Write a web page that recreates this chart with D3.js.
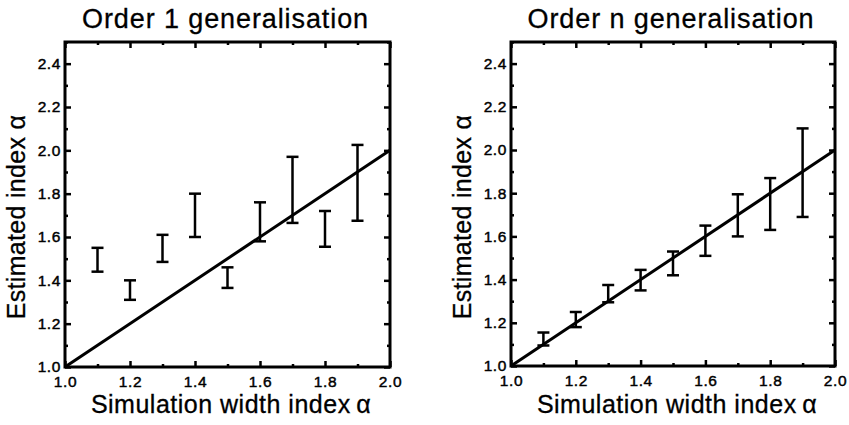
<!DOCTYPE html>
<html>
<head>
<meta charset="utf-8">
<script src="https://cdn.jsdelivr.net/npm/d3@7"></script>
<style>
  body { margin: 0; background: #fff; }
  svg { display: block; font-family: "Liberation Sans", Arial, Helvetica, sans-serif; }
</style>
</head>
<body>
<svg width="849" height="425"></svg>
<script>
// simulation width index (x positions of the error bars)
const simWidth = [1.1, 1.2, 1.3, 1.4, 1.5, 1.6, 1.7, 1.8, 1.9];

// order 1 generalisation: low / high ends of each bar
const order1Low  = [1.44, 1.31, 1.485, 1.60, 1.365, 1.58, 1.665, 1.555, 1.675];
const order1High = [1.55, 1.40, 1.61, 1.80, 1.46, 1.76, 1.97, 1.72, 2.025];

// order n generalisation
const orderNLow  = [1.095, 1.18, 1.295, 1.35, 1.42, 1.51, 1.60, 1.63, 1.69];
const orderNHigh = [1.155, 1.25, 1.375, 1.445, 1.53, 1.65, 1.795, 1.87, 2.10];

// reference line y = x
const refLine = [[1.0, 1.0], [2.0, 2.0]];

const xMajor = [1.0, 1.2, 1.4, 1.6, 1.8, 2.0];
const xMinor = [1.1, 1.3, 1.5, 1.7, 1.9];
const yMajor = [1.0, 1.2, 1.4, 1.6, 1.8, 2.0, 2.2, 2.4];
const yMinor = [1.1, 1.3, 1.5, 1.7, 1.9, 2.1, 2.3, 2.5];

const svg = d3.select('svg');

function drawPanel(left, right, top, bottom, title, low, high) {
    const x = d3.scaleLinear().domain([1.0, 2.0]).range([left, right]);
    const y = d3.scaleLinear().domain([1.0, 2.5]).range([bottom, top]);
    const g = svg.append('g');

    // ticks, all pointing inwards
    const fmt = d3.format('.1f');
    const axes = [
        [d3.axisBottom(x).tickValues(xMajor).tickSize(-6).tickPadding(9).tickFormat(fmt), 'translate(0,' + bottom + ')'],
        [d3.axisBottom(x).tickValues(xMinor).tickSize(-3).tickFormat(''), 'translate(0,' + bottom + ')'],
        [d3.axisTop(x).tickValues(xMajor).tickSize(-6).tickFormat(''), 'translate(0,' + top + ')'],
        [d3.axisTop(x).tickValues(xMinor).tickSize(-3).tickFormat(''), 'translate(0,' + top + ')'],
        [d3.axisLeft(y).tickValues(yMajor).tickSize(-6).tickPadding(4).tickFormat(fmt), 'translate(' + left + ',0)'],
        [d3.axisLeft(y).tickValues(yMinor).tickSize(-3).tickFormat(''), 'translate(' + left + ',0)'],
        [d3.axisRight(y).tickValues(yMajor).tickSize(-6).tickFormat(''), 'translate(' + right + ',0)'],
        [d3.axisRight(y).tickValues(yMinor).tickSize(-3).tickFormat(''), 'translate(' + right + ',0)']
    ];
    axes.forEach(function(a) {
        const ax = g.append('g').attr('transform', a[1]).call(a[0]);
        ax.select('.domain').remove();
        ax.selectAll('line').attr('stroke', '#000').attr('stroke-width', 2.5);
        ax.selectAll('text')
          .attr('fill', '#000')
          .attr('stroke', '#000')
          .attr('stroke-width', 0.45)
          .attr('font-size', 15.5)
          .attr('letter-spacing', 0.6);
    });

    // frame
    g.append('rect')
     .attr('x', left)
     .attr('y', top)
     .attr('width', right - left)
     .attr('height', bottom - top)
     .attr('fill', 'none')
     .attr('stroke', '#000')
     .attr('stroke-width', 3);

    // diagonal
    g.append('path')
     .datum(refLine)
     .attr('d', d3.line().x(function(d) { return x(d[0]); }).y(function(d) { return y(d[1]); }))
     .attr('fill', 'none')
     .attr('stroke', '#000')
     .attr('stroke-width', 3);

    // error bars
    const bars = g.selectAll('.bar')
                  .data(simWidth.map(function(v, i) { return [v, low[i], high[i]]; }))
                  .join('g')
                  .attr('class', 'bar')
                  .attr('stroke', '#000')
                  .attr('stroke-width', 2.5);
    bars.append('line')
        .attr('x1', function(d) { return x(d[0]); })
        .attr('x2', function(d) { return x(d[0]); })
        .attr('y1', function(d) { return y(d[1]); })
        .attr('y2', function(d) { return y(d[2]); });
    [1, 2].forEach(function(k) {
        bars.append('line')
            .attr('x1', function(d) { return x(d[0]) - 6; })
            .attr('x2', function(d) { return x(d[0]) + 6; })
            .attr('y1', function(d) { return y(d[k]); })
            .attr('y2', function(d) { return y(d[k]); });
    });

    // title
    g.append('text')
     .attr('x', (left + right) / 2 - 2)
     .attr('y', 28)
     .attr('text-anchor', 'middle')
     .attr('font-size', 27)
     .attr('letter-spacing', 0.9)
     .attr('stroke', '#000')
     .attr('stroke-width', 0.3)
     .text(title);

    // x label
    g.append('text')
     .attr('x', left + 166)
     .attr('y', 413)
     .attr('text-anchor', 'middle')
     .attr('font-size', 25)
     .attr('letter-spacing', 0.5)
     .attr('stroke', '#000')
     .attr('stroke-width', 0.3)
     .text('Simulation width index\u2009\u03b1');

    // y label
    g.append('text')
     .attr('transform', 'translate(' + (left - 40) + ',217) rotate(-90)')
     .attr('text-anchor', 'middle')
     .attr('font-size', 25)
     .attr('letter-spacing', 0.3)
     .attr('stroke', '#000')
     .attr('stroke-width', 0.3)
     .text('Estimated index \u03b1');
}

drawPanel(65, 390, 42, 367, 'Order 1 generalisation', order1Low, order1High);
drawPanel(511, 835, 42, 366, 'Order n generalisation', orderNLow, orderNHigh);
</script>
</body>
</html>
